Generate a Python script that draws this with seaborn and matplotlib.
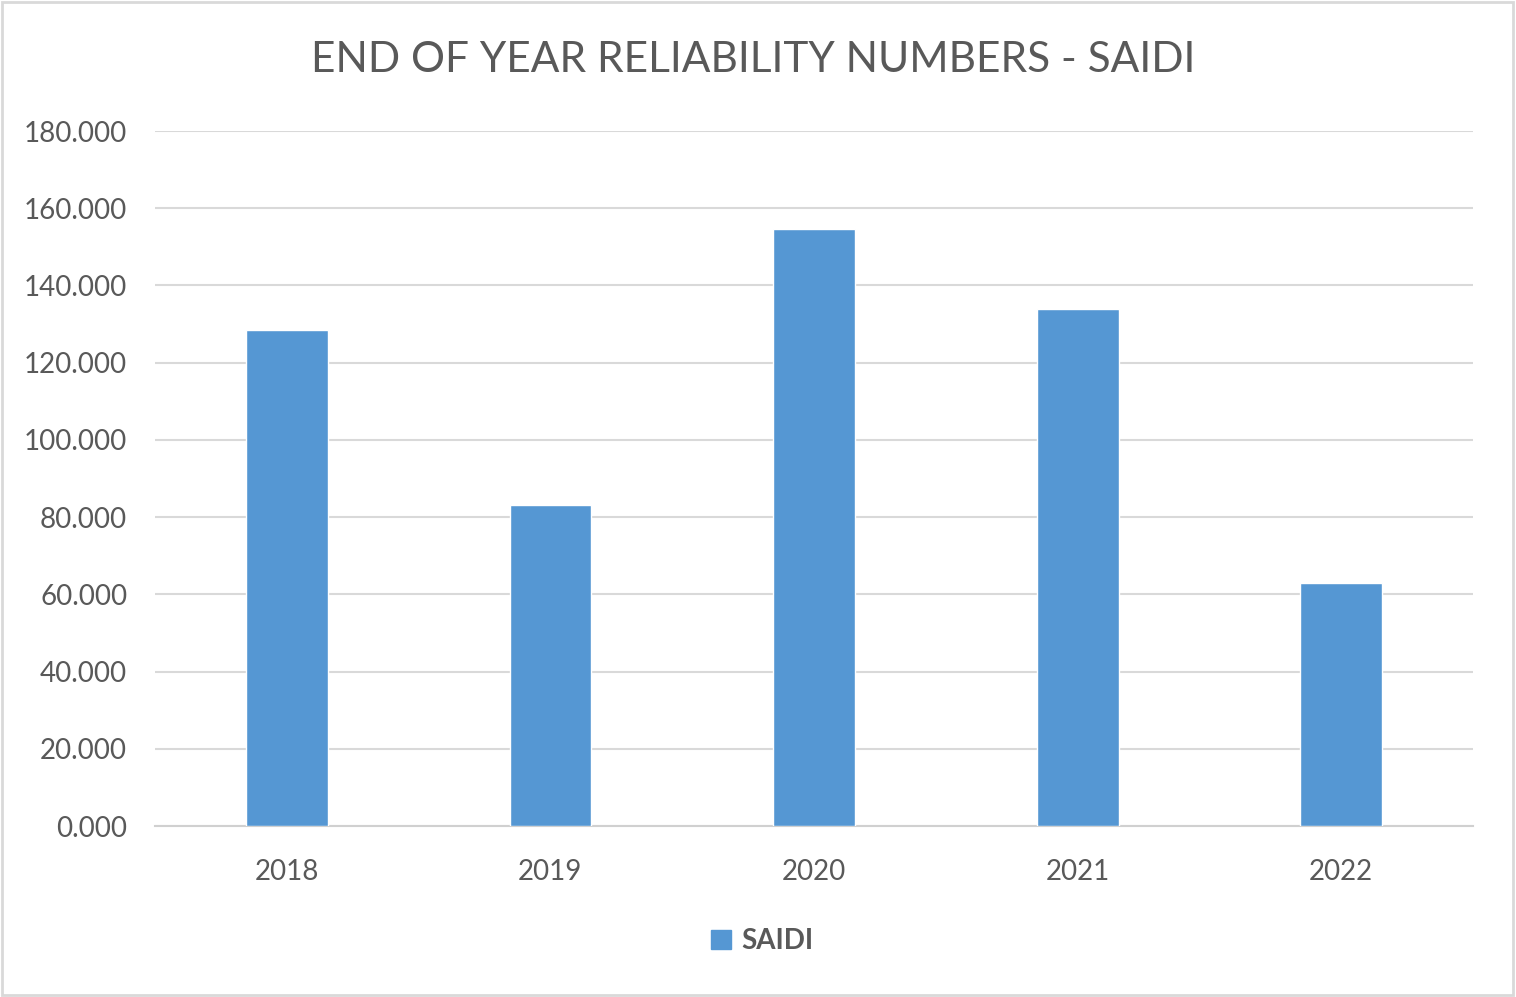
import matplotlib
matplotlib.use("Agg")
import matplotlib.pyplot as plt
import seaborn as sns
import pandas as pd
from matplotlib.patches import Rectangle

years = ["2018", "2019", "2020", "2021", "2022"]
saidi = [128.5, 83.1, 154.7, 133.9, 63.0]
y_ticks = [0, 20, 40, 60, 80, 100, 120, 140, 160, 180]

sns.set_theme(style="white")
plt.rcParams["font.family"] = ["Lato", "DejaVu Sans"]

df = pd.DataFrame({"year": years, "SAIDI": saidi})

fig = plt.figure(figsize=(15.16, 9.97), dpi=100)
ax = fig.add_axes([0.1022, 0.1715, 0.8695, 0.6971])

bar_color = "#5597d3"
sns.barplot(data=df, x="year", y="SAIDI", color=bar_color, width=0.31,
            saturation=1, ax=ax, zorder=3)

ax.set_ylim(0, 180)
ax.set_xlim(-0.5, 4.5)
ax.set_yticks(y_ticks)
ax.set_yticklabels([f"{v:.3f}" for v in y_ticks])
ax.yaxis.grid(True, color="#d9d9d9", linewidth=1.5, zorder=0)
ax.set_axisbelow(True)
for s in ["top", "right", "left"]:
    ax.spines[s].set_visible(False)
ax.spines["bottom"].set_color("#d0d0d0")
ax.spines["bottom"].set_linewidth(1.5)
ax.tick_params(axis="y", labelsize=20, colors="#595959", length=0, pad=20)
ax.tick_params(axis="x", labelsize=20, colors="#595959", length=0, pad=24)
ax.set_xlabel("")
ax.set_ylabel("")

fig.text(0.497, 0.94, "END OF YEAR RELIABILITY NUMBERS - SAIDI",
         ha="center", va="center", fontsize=30.5, color="#595959")

handle = Rectangle((0, 0), 1, 1, color=bar_color)
fig.legend([handle], ["SAIDI"], loc="center", bbox_to_anchor=(0.503, 0.056),
           frameon=False, prop={"size": 20, "weight": "bold"},
           labelcolor="#595959", handlelength=0.7, handleheight=0.7,
           handletextpad=0.4)

fig.patches.append(Rectangle((0.001, 0.002), 0.997, 0.996, transform=fig.transFigure,
                             fill=False, edgecolor="#d9d9d9", linewidth=2))

fig.savefig("out.png", dpi=100, facecolor="white")
